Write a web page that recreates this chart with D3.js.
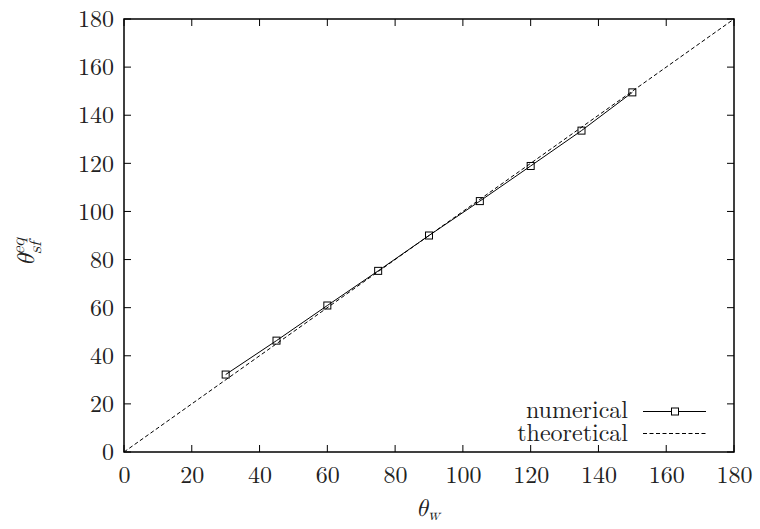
<!DOCTYPE html>
<html><head><meta charset="utf-8">
<script src="https://cdn.jsdelivr.net/npm/d3@7"></script>
<style>html,body{margin:0;padding:0;background:#fff;}</style>
</head>
<body>
<svg id="c" width="760" height="529"></svg>
<script>
const thetaW = [30,45,60,75,90,105,120,135,150];
const numerical = [32.2,46.3,60.9,75.3,90,104.3,118.9,133.6,149.5];
const theoretical = [[0,0],[180,180]];
const xTicks = [0,20,40,60,80,100,120,140,160,180];
const yTicks = [0,20,40,60,80,100,120,140,160,180];
const legendLabels = ["numerical","theoretical"];

const FONT = "Latin Modern Roman";
const MATHFONT = "Latin Modern Math, Latin Modern Roman, DejaVu Serif";
const svg = d3.select("#c");
const L=124, R=734, T=19, B=452;
const x = d3.scaleLinear().domain([0,180]).range([L,R]);
const y = d3.scaleLinear().domain([0,180]).range([B,T]);
const fs = 24;
const ink = "#222";

const tk = 7;
const g = svg.append("g").attr("stroke","#000").attr("stroke-width",1);
xTicks.forEach(v=>{
  g.append("line").attr("x1",x(v)).attr("x2",x(v)).attr("y1",B).attr("y2",B-tk);
  g.append("line").attr("x1",x(v)).attr("x2",x(v)).attr("y1",T).attr("y2",T+tk);
});
yTicks.forEach(v=>{
  g.append("line").attr("y1",y(v)).attr("y2",y(v)).attr("x1",L).attr("x2",L+tk);
  g.append("line").attr("y1",y(v)).attr("y2",y(v)).attr("x1",R).attr("x2",R-tk);
});

const xa = svg.append("g").attr("transform",`translate(0,${B})`)
  .call(d3.axisBottom(x).tickValues(xTicks).tickSize(0).tickPadding(14).tickFormat(d3.format("d")));
xa.select(".domain").remove();
xa.attr("font-family",FONT).attr("font-size",fs);
xa.selectAll("text").attr("font-family",FONT).attr("font-size",fs).attr("fill",ink);
const ya = svg.append("g").attr("transform",`translate(${L},0)`)
  .call(d3.axisLeft(y).tickValues(yTicks).tickSize(0).tickPadding(10).tickFormat(d3.format("d")));
ya.select(".domain").remove();
ya.attr("font-family",FONT).attr("font-size",fs);
ya.selectAll("text").attr("font-family",FONT).attr("font-size",fs).attr("fill",ink);

svg.append("path").datum(theoretical)
  .attr("d", d3.line().x(d=>x(d[0])).y(d=>y(d[1])))
  .attr("fill","none").attr("stroke","#000").attr("stroke-width",1)
  .attr("stroke-dasharray","4,2.5");

const pts = thetaW.map((v,i)=>[v,numerical[i]]);
svg.append("path").datum(pts)
  .attr("d", d3.line().x(d=>x(d[0])).y(d=>y(d[1])))
  .attr("fill","none").attr("stroke","#000").attr("stroke-width",1);
const ms = 7;
svg.selectAll("rect.m").data(pts).enter().append("rect").attr("class","m")
  .attr("x",d=>x(d[0])-ms/2).attr("y",d=>y(d[1])-ms/2)
  .attr("width",ms).attr("height",ms)
  .attr("fill","none").attr("stroke","#000").attr("stroke-width",1);

svg.append("rect").attr("x",L).attr("y",T).attr("width",R-L).attr("height",B-T)
  .attr("fill","none").attr("stroke","#000").attr("stroke-width",1.5);

const lx1=643, lx2=706, ly=[411.5,433.5];
svg.append("text").attr("x",628).attr("y",ly[0]+6).attr("text-anchor","end")
  .attr("font-family",FONT).attr("font-size",fs).attr("fill",ink).text(legendLabels[0]);
svg.append("line").attr("x1",lx1).attr("x2",lx2).attr("y1",ly[0]).attr("y2",ly[0])
  .attr("stroke","#000").attr("stroke-width",1);
svg.append("rect").attr("x",(lx1+lx2)/2-ms/2+0.5).attr("y",ly[0]-ms/2).attr("width",ms).attr("height",ms)
  .attr("fill","#fff").attr("stroke","#000").attr("stroke-width",1);
svg.append("text").attr("x",628).attr("y",ly[1]+7).attr("text-anchor","end")
  .attr("font-family",FONT).attr("font-size",fs).attr("fill",ink).text(legendLabels[1]);
svg.append("line").attr("x1",lx1).attr("x2",lx2).attr("y1",ly[1]).attr("y2",ly[1])
  .attr("stroke","#000").attr("stroke-width",1).attr("stroke-dasharray","4,2.5");

const xl = svg.append("text").attr("x",416).attr("y",516).attr("font-size",fs)
  .attr("font-family",MATHFONT).attr("fill",ink);
xl.append("tspan").attr("font-style","italic").text("θ");
xl.append("tspan").attr("font-style","italic").attr("font-size",17).attr("dy",4).text("w");

const yl = svg.append("text").attr("transform","translate(34,266) rotate(-90)").attr("font-size",fs)
  .attr("font-family",MATHFONT).attr("fill",ink);
yl.append("tspan").attr("font-style","italic").text("θ");
yl.append("tspan").attr("font-style","italic").attr("font-size",17).attr("dy",-10).text("eq");
yl.append("tspan").attr("font-style","italic").attr("font-size",17).attr("dx",-16).attr("dy",17).text("sf");
</script>
</body></html>
